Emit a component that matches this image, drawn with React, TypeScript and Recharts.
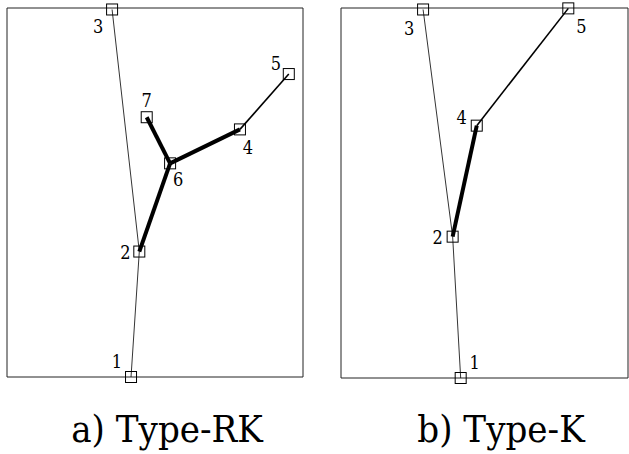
import React from 'react';
import { ScatterChart, Scatter, XAxis, YAxis, ReferenceArea, LabelList } from 'recharts';

// node positions in panel units (0-100 both ways, y up)
const rkNodes = [
  { id: '1', x: 41.9, y: 0 },
  { id: '2', x: 44.7, y: 34.0 },
  { id: '3', x: 35.5, y: 99.6 },
  { id: '4', x: 78.7, y: 67.1 },
  { id: '5', x: 95.2, y: 82.1 },
  { id: '6', x: 55.1, y: 57.9 },
  { id: '7', x: 47.2, y: 70.4 },
];
const rkEdges = [
  { from: '3', to: '2', weight: 'thin' },
  { from: '2', to: '1', weight: 'thin' },
  { from: '2', to: '6', weight: 'thick' },
  { from: '6', to: '7', weight: 'thick' },
  { from: '6', to: '4', weight: 'thick' },
  { from: '4', to: '5', weight: 'medium' },
];

const kNodes = [
  { id: '1', x: 41.7, y: 0 },
  { id: '2', x: 38.9, y: 38.2 },
  { id: '3', x: 28.6, y: 99.6 },
  { id: '4', x: 47.3, y: 68.2 },
  { id: '5', x: 79.2, y: 99.9 },
];
const kEdges = [
  { from: '3', to: '2', weight: 'thin' },
  { from: '2', to: '1', weight: 'thin' },
  { from: '2', to: '4', weight: 'thick' },
  { from: '4', to: '5', weight: 'medium' },
];

const captions = ['a) Type-RK', 'b) Type-K'];

// label offsets in px from node centre
const rkLabelOffset: Record<string, [number, number]> = {
  '1': [-14, -15], '2': [-14, 1], '3': [-14, 17], '4': [8, 18],
  '5': [-13, -11], '6': [8, 16], '7': [0, -17],
};
const kLabelOffset: Record<string, [number, number]> = {
  '1': [14, -15], '2': [-15, 1], '3': [-14, 19], '4': [-15, -8], '5': [13, 18],
};

const strokeFor: Record<string, number> = { thin: 0.8, medium: 1.6, thick: 4 };
const FONT = "'DejaVu Serif Condensed', 'DejaVu Serif', serif";

const NodeBox = (props: any) => {
  const { cx, cy } = props;
  return <rect x={cx - 5.5} y={cy - 5.5} width={11} height={11} fill="none" stroke="#000" strokeWidth={1} />;
};

const NoShape = () => <g />;

interface PanelProps {
  nodes: { id: string; x: number; y: number }[];
  edges: { from: string; to: string; weight: string }[];
  offsets: Record<string, [number, number]>;
  width: number;
  margin: { top: number; left: number; right: number; bottom: number };
  left: number;
}

function Panel({ nodes, edges, offsets, width, margin, left }: PanelProps) {
  const byId = Object.fromEntries(nodes.map((n) => [n.id, n]));
  const renderLabel = (p: any) => {
    const { x, y, width: w, height: h, value } = p;
    const [dx, dy] = offsets[value] || [0, 0];
    return (
      <text
        x={x + w / 2 + dx}
        y={y + h / 2 + dy}
        dy="0.36em"
        textAnchor="middle"
        style={{ fontFamily: FONT, fontSize: 18, fontStretch: 'condensed' }}
        fill="#000"
      >
        {value}
      </text>
    );
  };
  return (
    <div style={{ position: 'absolute', left, top: 0 }}>
      <ScatterChart width={width} height={390} margin={margin}>
        <XAxis type="number" dataKey="x" domain={[0, 100]} hide />
        <YAxis type="number" dataKey="y" domain={[0, 100]} hide />
        <ReferenceArea x1={0} x2={100} y1={0} y2={100} fill="none" stroke="#222" strokeWidth={1} fillOpacity={0} />
        {edges.map((e, i) => (
          <Scatter
            key={i}
            data={[byId[e.from], byId[e.to]]}
            line={{ stroke: '#000', strokeWidth: strokeFor[e.weight] }}
            lineType="joint"
            shape={NoShape}
            isAnimationActive={false}
          />
        ))}
        <Scatter data={nodes} shape={NodeBox} isAnimationActive={false}>
          <LabelList dataKey="id" content={renderLabel} />
        </Scatter>
      </ScatterChart>
    </div>
  );
}

export default function App() {
  return (
    <div style={{ position: 'absolute', left: 0, top: 0, width: 629, height: 454, background: '#fff', overflow: 'hidden' }}>
      <Panel
        nodes={rkNodes}
        edges={rkEdges}
        offsets={rkLabelOffset}
        width={310}
        left={0}
        margin={{ top: 8, left: 7, right: 7, bottom: 13 }}
      />
      <Panel
        nodes={kNodes}
        edges={kEdges}
        offsets={kLabelOffset}
        width={295}
        left={334}
        margin={{ top: 8, left: 7, right: 1, bottom: 12 }}
      />
      {captions.map((c, i) => (
        <div
          key={c}
          style={{
            position: 'absolute',
            left: (i === 0 ? 167 : 501) - 150,
            width: 300,
            top: 409,
            textAlign: 'center',
            fontFamily: FONT,
            fontStretch: 'condensed',
            fontSize: 38,
            lineHeight: '40px',
            color: '#000',
          }}
        >
          {c}
        </div>
      ))}
    </div>
  );
}
